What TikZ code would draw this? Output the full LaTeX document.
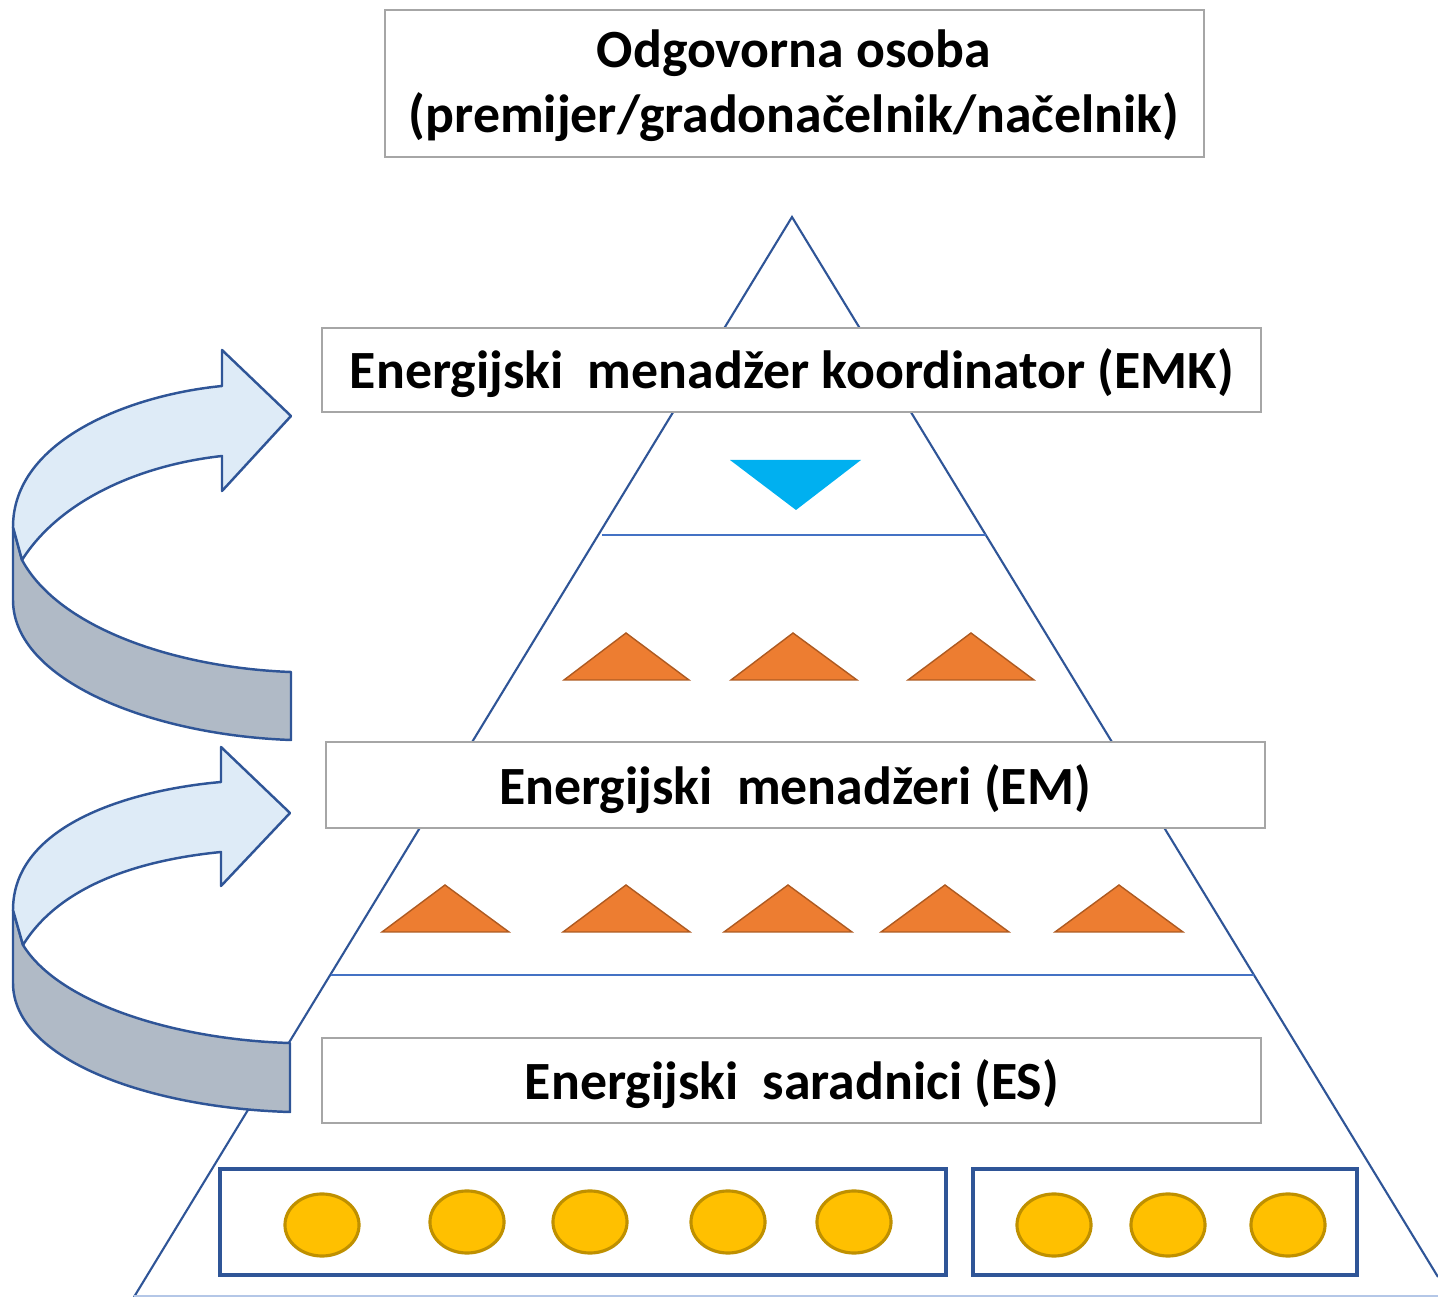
\documentclass[tikz,border=0pt]{standalone}
\usepackage{fontspec}
\setmainfont{Carlito}
\usepackage{tikz}

\definecolor{pyrblue}{RGB}{47,85,151}
\definecolor{sepblue}{RGB}{68,114,196}
\definecolor{boxgray}{RGB}{166,166,166}
\definecolor{ribbonlight}{RGB}{222,235,247}
\definecolor{ribbondark}{RGB}{176,186,198}
\definecolor{triorange}{RGB}{237,125,49}
\definecolor{triedge}{RGB}{174,90,33}
\definecolor{tricyan}{RGB}{0,176,240}
\definecolor{coinfill}{RGB}{255,192,0}
\definecolor{coinedge}{RGB}{191,144,0}
\definecolor{baseblue}{RGB}{180,199,231}

\begin{document}
\begin{tikzpicture}[x=0.01cm,y=-0.01cm,
		lbl/.style={font=\fontsize{15.3}{18.5}\selectfont\bfseries, inner sep=0pt},
		graybox/.style={draw=boxgray, line width=0.6pt, fill=white},
		tri/.style={draw=triedge, line width=0.4pt, fill=triorange},
		coin/.style={draw=coinedge, line width=0.9pt, fill=coinfill},
		group/.style={draw=pyrblue, line width=0.9pt},
		ribbon/.style={draw=pyrblue, line width=0.7pt, line join=round}]
				\useasboundingbox (0,0) rectangle (1438,1297);
				
				% pyramid
				\draw[pyrblue, line width=0.6pt] (134,1297) -- (792,217) -- (1438,1277);
				\draw[baseblue, line width=0.5pt] (134,1296) -- (1438,1296);
				\draw[sepblue, line width=0.35pt] (602,535) -- (986,535);
				\draw[sepblue, line width=0.35pt] (331,975) -- (1254,975);
				
				% boxes
				\draw[graybox] (385,10) rectangle (1204,157);
				\draw[graybox] (322,328) rectangle (1261,412);
				\draw[graybox] (326,742) rectangle (1265,828);
				\draw[graybox] (322,1038) rectangle (1261,1123);
				
				\node[lbl, align=center] (odg) at (794,86) {Odgovorna osoba\\(premijer/gradonačelnik/načelnik)};
				\node[lbl] (emk) at (792,373) {Energijski\ \ menadžer koordinator (EMK)};
				\node[lbl] (em) at (795,789) {Energijski\ \ menadžeri (EM)};
				\node[lbl] (es) at (792,1084) {Energijski\ \ saradnici (ES)};
				
				% top level
				\fill[tricyan] (730,460) -- (861,460) -- (796,510) -- cycle;
				
				% middle level
				\draw[tri] (564,680) -- (626,633) -- (689,680) -- cycle;
				\draw[tri] (731,680) -- (793,633) -- (857,680) -- cycle;
				\draw[tri] (908,680) -- (971,633) -- (1034,680) -- cycle;
				
				\draw[tri] (382,932) -- (445,885) -- (509,932) -- cycle;
				\draw[tri] (563,932) -- (626,885) -- (690,932) -- cycle;
				\draw[tri] (724,932) -- (788,885) -- (852,932) -- cycle;
				\draw[tri] (881,932) -- (945,885) -- (1009,932) -- cycle;
				\draw[tri] (1055,932) -- (1119,885) -- (1183,932) -- cycle;
				
				% bottom level
				\draw[group] (220,1169) rectangle (946,1275);
				\draw[group] (973,1169) rectangle (1357,1275);
				
				\draw[coin] (322,1225) ellipse (0.37cm and 0.31cm);
				\draw[coin] (467,1222) ellipse (0.37cm and 0.31cm);
				\draw[coin] (590,1222) ellipse (0.37cm and 0.31cm);
				\draw[coin] (728,1222) ellipse (0.37cm and 0.31cm);
				\draw[coin] (854,1222) ellipse (0.37cm and 0.31cm);
				\draw[coin] (1054,1225) ellipse (0.37cm and 0.31cm);
				\draw[coin] (1168,1225) ellipse (0.37cm and 0.31cm);
				\draw[coin] (1288,1225) ellipse (0.37cm and 0.31cm);
				
				% upper ribbon arrow
				\draw[ribbon, fill=ribbondark] (13,527) -- (13,600)
					.. controls (13,680) and (150,735) .. (291,740) -- (291,672)
					.. controls (180,668) and (60,630) .. (22,560) -- cycle;
				\draw[ribbon, fill=ribbonlight] (13,527)
					.. controls (13,440) and (130,395) .. (222,386) -- (222,350) -- (291,416)
					-- (222,491) -- (222,456)
					.. controls (140,465) and (60,500) .. (22,560) -- cycle;
				
				% lower ribbon arrow
				\draw[ribbon, fill=ribbondark] (13,910) -- (13,983)
					.. controls (13,1060) and (150,1108) .. (290,1112) -- (290,1043)
					.. controls (180,1040) and (60,1005) .. (23,945) -- cycle;
				\draw[ribbon, fill=ribbonlight] (13,910)
					.. controls (13,825) and (130,790) .. (221,782) -- (221,747) -- (290,813)
					-- (221,886) -- (221,852)
					.. controls (140,860) and (60,885) .. (23,945) -- cycle;
			\end{tikzpicture}
\end{document}
